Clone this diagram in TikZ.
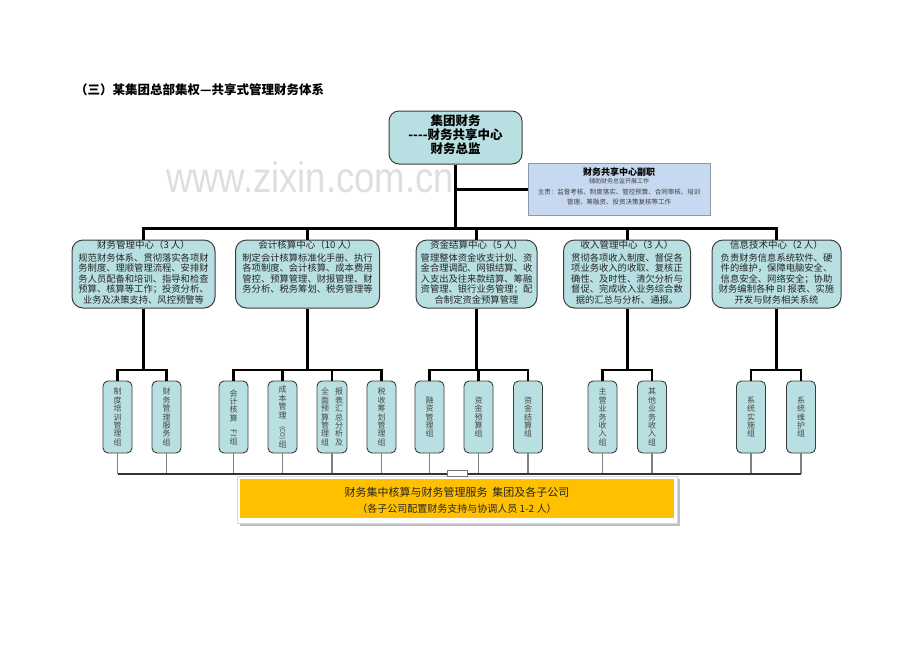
\documentclass[tikz,border=0pt]{standalone}
\usepackage{fontspec}
\setmainfont{Noto Sans CJK SC}
\newfontfamily\wmfont{Liberation Sans}
\usepackage{graphicx}
\definecolor{tealfill}{RGB}{184,223,226}
\definecolor{boxline}{RGB}{60,60,60}
\definecolor{bluefill}{RGB}{198,217,240}
\definecolor{blueline}{RGB}{140,152,170}
\definecolor{orangefill}{RGB}{255,192,0}
\definecolor{wmgray}{RGB}{222,222,222}
\definecolor{subtext}{RGB}{70,70,70}
\begin{document}
\begin{tikzpicture}[x=1pt,y=-1pt,
  mainbox/.style={draw=boxline, line width=1pt, fill=tealfill, rounded corners=11pt, minimum height=68pt, inner sep=0pt},
  topbox/.style={draw=boxline, line width=1pt, fill=tealfill, rounded corners=10pt, minimum width=133pt, minimum height=53pt, inner sep=0pt},
  subbox/.style={draw=boxline, line width=0.9pt, fill=tealfill, rounded corners=5pt, minimum width=29pt, minimum height=72pt, inner sep=0pt},
  boxtitle/.style={inner sep=0pt, font=\fontsize{9.5}{10.5}\selectfont, text=black!85},
  boxbody/.style={inner sep=0pt, align=center, anchor=north, font=\fontsize{9.3}{10.5}\selectfont, text=black!85},
  vtext/.style={inner sep=0pt, align=center, font=\fontsize{8}{8.4}\selectfont, text=subtext},
  thickline/.style={line width=3pt, black},
  midline/.style={line width=2.6pt, black},
  thinline/.style={line width=1.2pt, black!50},
  botline/.style={line width=1.3pt, black!80},
]
\useasboundingbox (0,0) rectangle (920,651);

% watermark
\node[inner sep=0pt, anchor=base, text=wmgray, font=\wmfont\fontsize{42.4}{42.4}\selectfont] (wm) at (310,192) {\scalebox{0.86}[1]{www.zixin.com.cn}};

% title
\node[inner sep=0pt, anchor=west, font=\bfseries\fontsize{12.5}{14}\selectfont] (title) at (75,90) {（三）某集团总部集权—共享式管理财务体系};

% top box
\node[topbox] (top) at (455.5,137.5) {};
\node[inner sep=0pt, align=center, font=\bfseries\fontsize{12.5}{13.8}\selectfont] (toptext) at (455.5,134.5) {集团财务\\-\kern0pt-\kern0pt-\kern0pt-财务共享中心\\财务总监};

% blue box
\node[draw=blueline, line width=1pt, fill=bluefill, minimum width=182pt, minimum height=52pt, inner sep=0pt] (blue) at (619,189) {};
\node[inner sep=0pt, font=\bfseries\fontsize{9}{10}\selectfont] (bluet) at (619,172) {财务共享中心副职};
\node[inner sep=0pt, font=\fontsize{6}{7}\selectfont, text=black!75] (blue1) at (619,181.5) {辅助财务总监开展工作};
\node[inner sep=0pt, font=\fontsize{6.5}{7}\selectfont, text=black!75] (blue2) at (619,192.5) {主责：监督考核、制度落实、管控预算、合同审核、培训};
\node[inner sep=0pt, font=\fontsize{6.5}{7}\selectfont, text=black!75] (blue3) at (619,202.5) {管理、筹融资、投资决策复核等工作};

% main boxes
\node[mainbox, minimum width=143pt] (m1) at (143.5,274) {};
\node[mainbox, minimum width=144pt] (m2) at (307.5,274) {};
\node[mainbox, minimum width=121pt] (m3) at (476.5,274) {};
\node[mainbox, minimum width=127pt] (m4) at (627,274) {};
\node[mainbox, minimum width=129pt] (m5) at (776.5,274) {};

\node[boxtitle] (m1t) at (143.5,245) {财务管理中心（3 人）};
\node[boxbody] (m1b) at (143.5,253) {规范财务体系、贯彻落实各项财\\务制度、理顺管理流程、安排财\\务人员配备和培训、指导和检查\\预算、核算等工作；投资分析、\\业务及决策支持、风控预警等};
\node[boxtitle] (m2t) at (307.5,245) {会计核算中心（10 人）};
\node[boxbody] (m2b) at (307.5,253) {制定会计核算标准化手册、执行\\各项制度、会计核算、成本费用\\管控、预算管理、财报管理、财\\务分析、税务筹划、税务管理等};
\node[boxtitle] (m3t) at (476.5,245) {资金结算中心（5 人）};
\node[boxbody] (m3b) at (476.5,253) {管理整体资金收支计划、资\\金合理调配、网银结算、收\\入支出及往来款结算、筹融\\资管理、银行业务管理；配\\合制定资金预算管理};
\node[boxtitle] (m4t) at (627,245) {收入管理中心（3 人）};
\node[boxbody] (m4b) at (627,253) {贯彻各项收入制度、督促各\\项业务收入的收取、复核正\\确性、及时性、清欠分析与\\督促、完成收入业务综合数\\据的汇总与分析、通报。};
\node[boxtitle] (m5t) at (776.5,245) {信息技术中心（2 人）};
\node[boxbody] (m5b) at (776.5,253) {负责财务信息系统软件、硬\\件的维护，保障电脑安全、\\信息安全、网络安全；协助\\财务编制各种 BI 报表、实施\\开发与财务相关系统};

% sub boxes
\node[subbox] (s1) at (117.5,417) {};
\node[subbox] (s2) at (166.5,417) {};
\node[subbox] (s3) at (233.5,417) {};
\node[subbox] (s4) at (282.5,417) {};
\node[subbox, minimum width=30pt] (s5) at (332,417) {};
\node[subbox] (s6) at (381.5,417) {};
\node[subbox] (s7) at (429.5,417) {};
\node[subbox] (s8) at (478.5,417) {};
\node[subbox] (s9) at (528,417) {};
\node[subbox] (s10) at (602.5,417) {};
\node[subbox] (s11) at (652,417) {};
\node[subbox] (s12) at (751,417) {};
\node[subbox] (s13) at (801,417) {};

\node[vtext] (t1) at (s1) {制\\度\\培\\训\\管\\理\\组};
\node[vtext] (t2) at (s2) {财\\务\\管\\理\\服\\务\\组};
\node[vtext] (t3) at (s3) {会\\计\\核\\算\\\rotatebox{-90}{FI}\\组};
\node[vtext] (t4) at (s4) {成\\本\\管\\理\\\rotatebox{-90}{\fontsize{6.5}{7}\selectfont (CO)}\\组};
\node[vtext] (t5a) at (339,417) {报\\表\\汇\\总\\分\\析\\及};
\node[vtext] (t5b) at (325,417) {全\\面\\预\\算\\管\\理\\组};
\node[vtext] (t6) at (s6) {税\\收\\筹\\划\\管\\理\\组};
\node[vtext] (t7) at (s7) {融\\资\\管\\理\\组};
\node[vtext] (t8) at (s8) {资\\金\\预\\算\\组};
\node[vtext] (t9) at (s9) {资\\金\\结\\算\\组};
\node[vtext] (t10) at (s10) {主\\营\\业\\务\\收\\入\\组};
\node[vtext] (t11) at (s11) {其\\他\\业\\务\\收\\入\\组};
\node[vtext] (t12) at (s12) {系\\统\\实\\施\\组};
\node[vtext] (t13) at (s13) {系\\统\\维\\护\\组};

% bottom box
\fill[black!25] (240,479) rectangle (680,526);
\node[draw=black!15, fill=white, minimum width=440pt, minimum height=47pt, inner sep=0pt] (bot) at (457,499.5) {};
\node[fill=orangefill, minimum width=434pt, minimum height=39pt, inner sep=0pt] (botin) at (457,498.5) {};
\node[inner sep=0pt, font=\fontsize{11}{12}\selectfont, text=black!85] (bott1) at (457,492) {财务集中核算与财务管理服务\ \ 集团及各子公司};
\node[inner sep=0pt, font=\fontsize{10}{11}\selectfont, text=black!85] (bott2) at (457,508.5) {（各子公司配置财务支持与协调人员 1-2 人）};

% coordinates
\coordinate (hb) at (0,228);
\coordinate (sb) at (0,370);
\coordinate (bl) at (0,474);

% top connectors
\draw[thickline] (top.south) -- (top.south |- hb);
\draw[thickline] (top.south |- blue.west) -- (blue.west);
\draw[thickline, line cap=rect] (m1.north |- hb) -- (m5.north |- hb);
\foreach \m in {m1,m2,m3,m4,m5}{
  \draw[thickline] (\m.north |- hb) -- (\m.north);
  \draw[thickline] (\m.south) -- (\m.south |- sb);
}
% sub branches
\draw[midline] (s1.north) -- (s1.north |- sb) -- (s2.north |- sb) -- (s2.north);
\draw[midline] (s3.north) -- (s3.north |- sb) -- (s6.north |- sb) -- (s6.north);
\draw[midline] (s4.north |- sb) -- (s4.north);
\draw[midline] (s5.north |- sb) -- (s5.north);
\draw[midline] (s7.north) -- (s7.north |- sb) -- (s9.north |- sb) -- (s9.north);
\draw[midline] (s8.north |- sb) -- (s8.north);
\draw[midline] (s10.north) -- (s10.north |- sb) -- (s11.north |- sb) -- (s11.north);
\draw[midline] (s12.north) -- (s12.north |- sb) -- (s13.north |- sb) -- (s13.north);

% bottom connectors
\foreach \s in {s1,s2,s3,s4,s5,s6,s7,s8,s9,s10,s11,s12,s13}{
  \draw[thinline] (\s.south) -- (\s.south |- bl);
}
\draw[botline] (s1.south |- bl) -- (s13.south |- bl);
\node[draw=black!55, line width=0.8pt, fill=white, minimum width=20pt, minimum height=6pt, inner sep=0pt] (notch) at (457,473.5) {};
\end{tikzpicture}
\end{document}
